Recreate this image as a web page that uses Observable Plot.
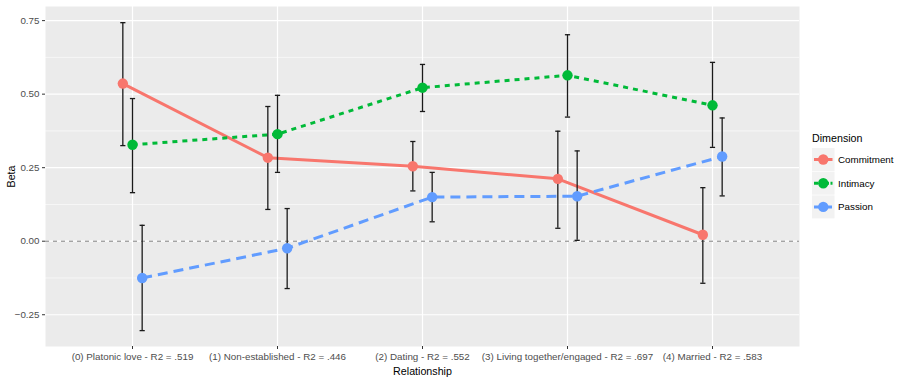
<!DOCTYPE html>
<html>
<head>
<meta charset="utf-8">
<script src="https://cdn.jsdelivr.net/npm/d3@7"></script>
<script src="https://cdn.jsdelivr.net/npm/@observablehq/plot@0.6"></script>
<style>
  html, body { margin: 0; padding: 0; background: #fff; }
  #chart { width: 900px; height: 377px; position: relative; }
</style>
</head>
<body>
<div id="chart"></div>
<script>
const relationships = [
  "(0) Platonic love - R2 = .519",
  "(1) Non-established - R2 = .446",
  "(2) Dating - R2 = .552",
  "(3) Living together/engaged - R2 = .697",
  "(4) Married - R2 = .583"
];
const dimensions = ["Commitment", "Intimacy", "Passion"];

const commitmentBeta = [0.536, 0.284, 0.255, 0.212, 0.022];
const commitmentLow  = [0.325, 0.108, 0.171, 0.044, -0.143];
const commitmentHigh = [0.743, 0.458, 0.339, 0.374, 0.182];

const intimacyBeta = [0.328, 0.364, 0.522, 0.564, 0.462];
const intimacyLow  = [0.165, 0.234, 0.441, 0.422, 0.319];
const intimacyHigh = [0.485, 0.496, 0.601, 0.702, 0.608];

const passionBeta = [-0.125, -0.024, 0.150, 0.153, 0.288];
const passionLow  = [-0.304, -0.161, 0.066, 0.003, 0.154];
const passionHigh = [0.054, 0.111, 0.234, 0.307, 0.419];

const yTicks = [-0.25, 0, 0.25, 0.5, 0.75];
const yMinorTicks = [-0.125, 0.125, 0.375, 0.625];

// styles
const colors = ["#F8766D", "#00BA38", "#619CFF"];
const dashes = [null, "5,5", "10,6"];
const legendDashes = [null, "4,1.5", "8,2"];
const dodgeWidth = 0.2;

const series = [
  [commitmentBeta, commitmentLow, commitmentHigh],
  [intimacyBeta, intimacyLow, intimacyHigh],
  [passionBeta, passionLow, passionHigh]
];
const rows = [];
dimensions.forEach((dim, k) => {
  relationships.forEach((rel, i) => {
    rows.push({
      dim, k, i,
      xd: i + (k - 1) * dodgeWidth / 3,
      beta: series[k][0][i],
      low: series[k][1][i],
      high: series[k][2][i]
    });
  });
});
const caps = rows.flatMap(d => [{xd: d.xd, v: d.low}, {xd: d.xd, v: d.high}]);

const font = "'Liberation Sans', Arial, sans-serif";
const idx = relationships.map((_, i) => i);

const plot = Plot.plot({
  width: 900,
  height: 377,
  marginLeft: 45,
  marginRight: 101,
  marginTop: 6,
  marginBottom: 31,
  style: { fontFamily: font, background: "#fff", overflow: "visible" },
  x: { type: "linear", domain: [-0.6, 4.6] },
  y: { type: "linear", domain: [-0.358, 0.798] },
  color: { domain: dimensions, range: colors },
  marks: [
    Plot.frame({ fill: "#EBEBEB", stroke: "none" }),
    Plot.ruleY(yMinorTicks, { stroke: "#fff", strokeWidth: 0.6 }),
    Plot.ruleY(yTicks, { stroke: "#fff", strokeWidth: 1.2 }),
    Plot.ruleX(idx, { stroke: "#fff", strokeWidth: 1.2 }),
    Plot.ruleY([0], { stroke: "#808080", strokeWidth: 1, strokeDasharray: "4,4" }),
    ...dimensions.map((dim, k) =>
      Plot.line(rows.filter(d => d.k === k), {
        x: "xd", y: "beta", stroke: colors[k], strokeWidth: 3,
        strokeDasharray: dashes[k], strokeLinecap: "butt"
      })
    ),
    Plot.ruleX(rows, { x: "xd", y1: "low", y2: "high", stroke: "#1a1a1a", strokeWidth: 1.3 }),
    Plot.link(caps, {
      x1: "xd", x2: "xd", y1: "v", y2: "v", dx: 0,
      stroke: "#1a1a1a", strokeWidth: 1.3,
      render: (index, scales, values, dimensions, context, next) => {
        const g = next(index, scales, values, dimensions, context);
        d3.select(g).selectAll("path").each(function (_, j) {
          const i = index[j];
          const x = values.x1[i], y = values.y1[i];
          d3.select(this).attr("d", `M${x - 2.6},${y}L${x + 2.6},${y}`);
        });
        return g;
      }
    }),
    Plot.dot(rows, { x: "xd", y: "beta", fill: "dim", r: 5.2, stroke: "none" }),
    Plot.axisX(idx, {
      tickFormat: i => relationships[i], tickSize: 3, stroke: "#333",
      fontSize: 9.8, color: "#4D4D4D", tickPadding: 4,
      label: "Relationship", labelAnchor: "center", labelArrow: "none", labelOffset: 28
    }),
    Plot.axisY(yTicks, {
      tickFormat: d3.format(".2f"), tickSize: 3, stroke: "#333",
      fontSize: 9.8, color: "#4D4D4D", tickPadding: 3,
      label: "Beta", labelAnchor: "center", labelArrow: "none", labelOffset: 38
    })
  ]
});

document.getElementById("chart").appendChild(plot);

const svg = d3.select(plot);
svg.selectAll("g[aria-label='x-axis label'] text, g[aria-label='y-axis label'] text")
  .attr("fill", "#000").style("font-size", "10.7px");

// legend
const lg = svg.append("g").attr("transform", "translate(812,0)")
  .style("font-family", font).attr("text-anchor", "start");
lg.append("text").attr("x", 0).attr("y", 142).text("Dimension")
  .style("font-size", "10.7px").attr("fill", "#000");
dimensions.forEach((dim, k) => {
  const y0 = 148 + k * 23.7;
  lg.append("rect").attr("x", 0).attr("y", y0).attr("width", 22.5).attr("height", 23)
    .attr("fill", "#F2F2F2");
  lg.append("line").attr("x1", 2).attr("x2", 20.5).attr("y1", y0 + 11.5).attr("y2", y0 + 11.5)
    .attr("stroke", colors[k]).attr("stroke-width", 3)
    .attr("stroke-dasharray", legendDashes[k]);
  lg.append("circle").attr("cx", 11.25).attr("cy", y0 + 11.5).attr("r", 5.2).attr("fill", colors[k]);
  lg.append("text").attr("x", 26).attr("y", y0 + 15).text(dim)
    .style("font-size", "9.8px").attr("fill", "#000");
});
</script>
</body>
</html>
